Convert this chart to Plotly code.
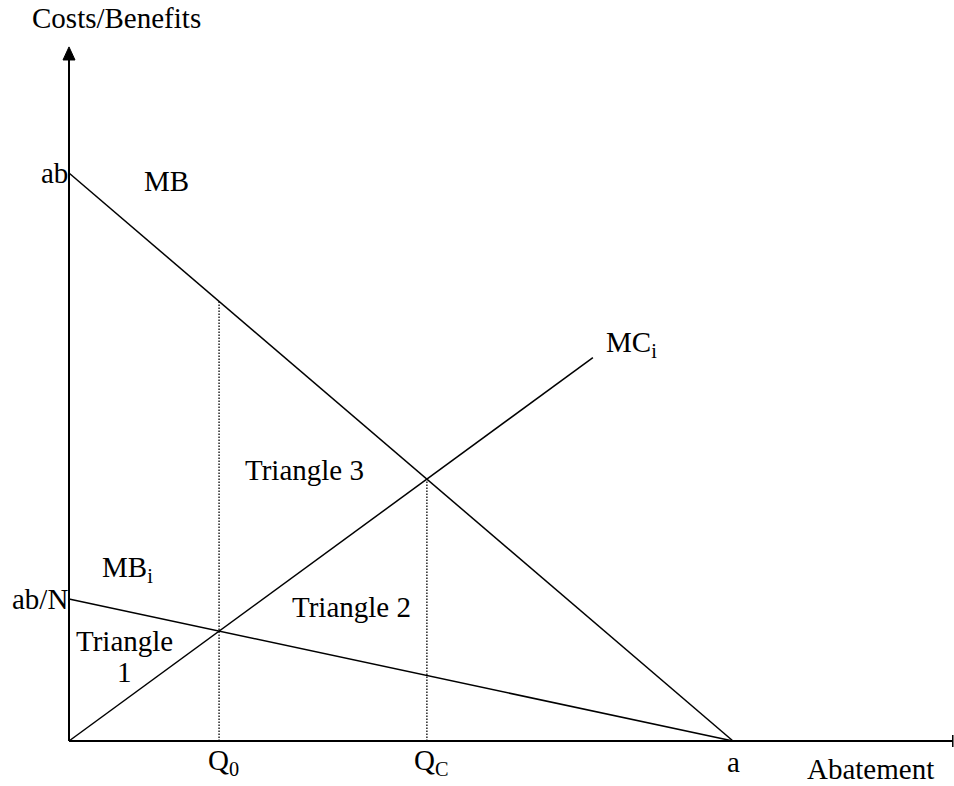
import plotly.graph_objects as go

# ---- model values (a = 10, ab = 10, N = 4) ----
mb_x = [0, 10]
mb_y = [10, 0]
mbi_x = [0, 10]
mbi_y = [2.5, 0]
mci_x = [0, 7.89]
mci_y = [0, 6.75]
q_x = [2.26, 5.39]
q_top = [7.74, 4.61]
q_labels = ["Q<sub>0</sub>", "Q<sub>C</sub>"]
y_tick_vals = [10, 2.5]
y_tick_text = ["ab", "ab/N"]
x_tick_vals = [10]
x_tick_text = ["a"]
axis_x_end = 13.31
axis_y_end = 11.99
arrow_tip = 12.22

# pixel <-> data mapping (plot area fills the whole page)
W, H = 954, 786
X0, SX = 69, 66.4
Y0, SY = 741, 56.8


def dx(px):
    return (px - X0) / SX


def dy(py):
    return (Y0 - py) / SY


FONT = dict(family="Liberation Serif, Times New Roman, serif", size=29, color="black")

fig = go.Figure()

line_style = dict(color="black", width=1.5)
fig.add_trace(go.Scatter(x=mb_x, y=mb_y, mode="lines", line=line_style, hoverinfo="skip"))
fig.add_trace(go.Scatter(x=mbi_x, y=mbi_y, mode="lines", line=line_style, hoverinfo="skip"))
fig.add_trace(go.Scatter(x=mci_x, y=mci_y, mode="lines", line=line_style, hoverinfo="skip"))
for qx, qt in zip(q_x, q_top):
    fig.add_trace(go.Scatter(x=[qx, qx], y=[0, qt], mode="lines",
                             line=dict(color="black", width=1.3, dash="1.5px,1.5px"),
                             hoverinfo="skip"))

# axes
fig.add_trace(go.Scatter(x=[0, axis_x_end], y=[0, 0], mode="lines",
                         line=dict(color="black", width=2), hoverinfo="skip"))
fig.add_trace(go.Scatter(x=[0, 0], y=[0, axis_y_end], mode="lines",
                         line=dict(color="black", width=2), hoverinfo="skip"))
# end tick on x axis
fig.add_shape(type="line", x0=axis_x_end, x1=axis_x_end, y0=dy(735), y1=dy(747),
              line=dict(color="black", width=1.5))
# arrow head on y axis
hw = 6.0 / SX
fig.add_shape(type="path",
              path=f"M {-hw} {axis_y_end} L 0 {arrow_tip} L {hw} {axis_y_end} Z",
              fillcolor="black", line=dict(color="black", width=1))

ann = []


def add_text(text, x, y, xanchor="center", **kw):
    ann.append(dict(text=text, x=x, y=y, xref="x", yref="y", showarrow=False,
                    xanchor=xanchor, yanchor="middle", font=kw.pop("font", FONT), **kw))


# axis titles
add_text("Costs/Benefits", dx(116), dy(18))
add_text("Abatement", dx(870), dy(769))

# tick-like labels
for v, t in zip(y_tick_vals, y_tick_text):
    add_text(t, 0, v, xanchor="right", xshift=1, yshift=0)
for v, t in zip(x_tick_vals, x_tick_text):
    add_text(t, v, dy(762))
for qx, t in zip(q_x, q_labels):
    add_text(t, qx, dy(762), xshift=4)

# curve labels
add_text("MB", dx(166), dy(181))
add_text("MB<sub>i</sub>", dx(127), dy(569))
add_text("MC<sub>i</sub>", dx(631), dy(344))

# area labels
add_text("Triangle 3", dx(304), dy(470))
add_text("Triangle 2", dx(351), dy(607))
add_text("Triangle", dx(124), dy(641))
add_text("1", dx(124), dy(672))

fig.update_layout(
    width=W, height=H,
    margin=dict(l=0, r=0, t=0, b=0),
    paper_bgcolor="white", plot_bgcolor="white",
    showlegend=False,
    xaxis=dict(range=[dx(0), dx(W)], visible=False, fixedrange=True),
    yaxis=dict(range=[dy(H), dy(0)], visible=False, fixedrange=True),
    annotations=ann,
)

fig.write_html(
    "out.html",
    config={"displayModeBar": False},
    post_script="document.body.style.margin='0';document.body.style.overflow='hidden';",
)
